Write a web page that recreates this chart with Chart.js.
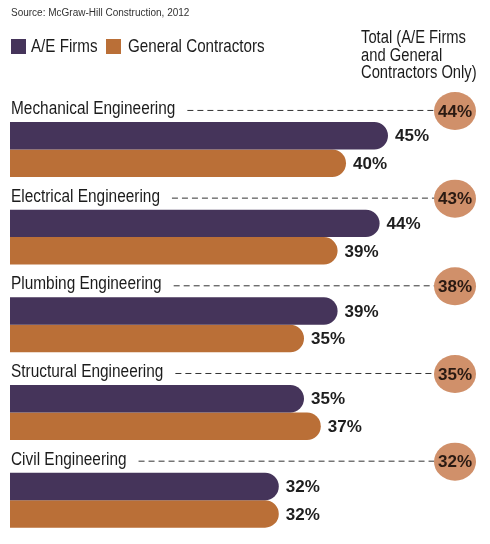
<!DOCTYPE html>
<html>
<head>
<meta charset="utf-8">
<script src="https://cdn.jsdelivr.net/npm/chart.js@4"></script>
<style>
    body { margin: 0; background: #fff; }
    #wrap { position: relative; width: 490px; height: 544px; overflow: hidden; }
    #wrap canvas { position: absolute; left: 0; top: 0; }
    .note { position: absolute; font-family: "Liberation Sans", Arial, sans-serif; color: #333; }
    .narrow {
        position: absolute; font-family: "Liberation Sans", Arial, sans-serif; color: #1c1c1c;
        white-space: nowrap; transform: scaleX(0.82); transform-origin: 0 0;
    }
    .sw { position: absolute; width: 15px; height: 15px; }
</style>
</head>
<body>
<div id="wrap">
    <canvas id="chart" width="490" height="544"></canvas>
    <div class="note" style="left:11px; top:7px; font-size:10px;">Source: McGraw-Hill Construction, 2012</div>
    <div class="sw" style="left:11px; top:39px; background:#45345a;"></div>
    <div class="narrow" style="left:31px; top:35px; font-size:18.5px;">A/E Firms</div>
    <div class="sw" style="left:106px; top:39px; background:#ba6f37;"></div>
    <div class="narrow" style="left:128px; top:35px; font-size:18.5px;">General Contractors</div>
    <div class="narrow" style="left:361px; top:29px; font-size:18px; line-height:17.5px;">Total (A/E Firms<br>and General<br>Contractors Only)</div>
</div>
<script>
const categories = ["Mechanical Engineering", "Electrical Engineering", "Plumbing Engineering", "Structural Engineering", "Civil Engineering"];
const aeFirms = [45, 44, 39, 35, 32];
const generalContractors = [40, 39, 35, 37, 32];
const totals = [44, 43, 38, 35, 32];

const purple = "#45345a";
const orange = "#ba6f37";

const overlay = {
    id: "overlay",
    afterDatasetsDraw(chart) {
        const ctx = chart.ctx;
        const m0 = chart.getDatasetMeta(0);
        chart.data.labels.forEach((label, i) => {
            const bar = m0.data[i];
            const top = bar.y - bar.height / 2;
            const base = top - 8;
            const ly = top - 13;
            ctx.save();
            ctx.font = '17.5px "Liberation Sans", Arial, sans-serif';
            ctx.fillStyle = "#1c1c1c";
            ctx.textBaseline = "alphabetic";
            ctx.textAlign = "left";
            ctx.translate(11, base);
            ctx.scale(0.88, 1);
            ctx.fillText(label, 0, 0);
            const w = ctx.measureText(label).width * 0.88;
            ctx.restore();

            ctx.save();
            const cx = 455, cy = ly + 2;
            ctx.strokeStyle = "#333";
            ctx.lineWidth = 1;
            ctx.setLineDash([6, 4]);
            ctx.beginPath();
            ctx.moveTo(11 + w + 12, ly + 1.5);
            ctx.lineTo(cx - 16, ly + 1.5);
            ctx.stroke();
            ctx.setLineDash([]);

            ctx.fillStyle = "#d0906a";
            ctx.beginPath();
            ctx.ellipse(cx, cy, 21, 19, 0, 0, Math.PI * 2);
            ctx.fill();
            ctx.fillStyle = "#2a1a12";
            ctx.font = 'bold 17px "Liberation Sans", Arial, sans-serif';
            ctx.textAlign = "center";
            ctx.textBaseline = "middle";
            ctx.fillText(totals[i] + "%", cx, cy + 1);
            ctx.restore();
        });

        chart.data.datasets.forEach((ds, d) => {
            chart.getDatasetMeta(d).data.forEach((bar, i) => {
                ctx.save();
                ctx.font = 'bold 17px "Liberation Sans", Arial, sans-serif';
                ctx.fillStyle = "#1e1e1e";
                ctx.textBaseline = "middle";
                ctx.textAlign = "left";
                ctx.fillText(ds.data[i] + "%", bar.x + 7, bar.y + 1);
                ctx.restore();
            });
        });
    }
};

new Chart(document.getElementById("chart"), {
    type: "bar",
    data: {
        labels: categories,
        datasets: [
            { label: "A/E Firms", data: aeFirms, backgroundColor: purple },
            { label: "General Contractors", data: generalContractors, backgroundColor: orange }
        ]
    },
    options: {
        indexAxis: "y",
        responsive: false,
        animation: false,
        layout: { padding: { left: 10, right: 9.6, top: 105.6, bottom: 0 } },
        datasets: {
            bar: {
                categoryPercentage: 0.627,
                barPercentage: 1,
                borderRadius: { topRight: 14, bottomRight: 14 },
                borderSkipped: "start",
                borderWidth: 0
            }
        },
        scales: {
            x: { display: false, min: 0, max: 56 },
            y: { display: false }
        },
        plugins: {
            legend: { display: false },
            tooltip: { enabled: false }
        }
    },
    plugins: [overlay]
});
</script>
</body>
</html>
